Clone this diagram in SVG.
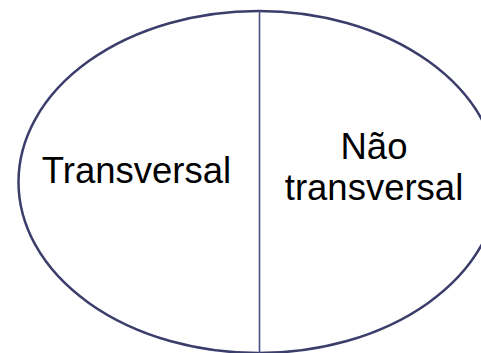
<svg xmlns="http://www.w3.org/2000/svg" width="481" height="353" viewBox="0 0 481 353">
<style>
.lbl{font-family:"Liberation Sans",Arial,sans-serif;font-size:36.5px;fill:#000;text-anchor:middle}
</style>
<rect width="481" height="353" fill="#fff"/>
<g id="ellipse">
<ellipse cx="258.5" cy="182" rx="240" ry="171" fill="none" stroke="#3b3d6b" stroke-width="2.5"/>
</g>
<g id="connectors">
<line x1="259.5" y1="11" x2="259.5" y2="353" stroke="#4a4e82" stroke-width="1.6"/>
</g>
<g id="left">
<text class="lbl" x="136.5" y="182.5">Transversal</text>
</g>
<g id="right">
<text class="lbl" x="374" y="159">Não</text>
<text class="lbl" x="374" y="200">transversal</text>
</g>
</svg>
